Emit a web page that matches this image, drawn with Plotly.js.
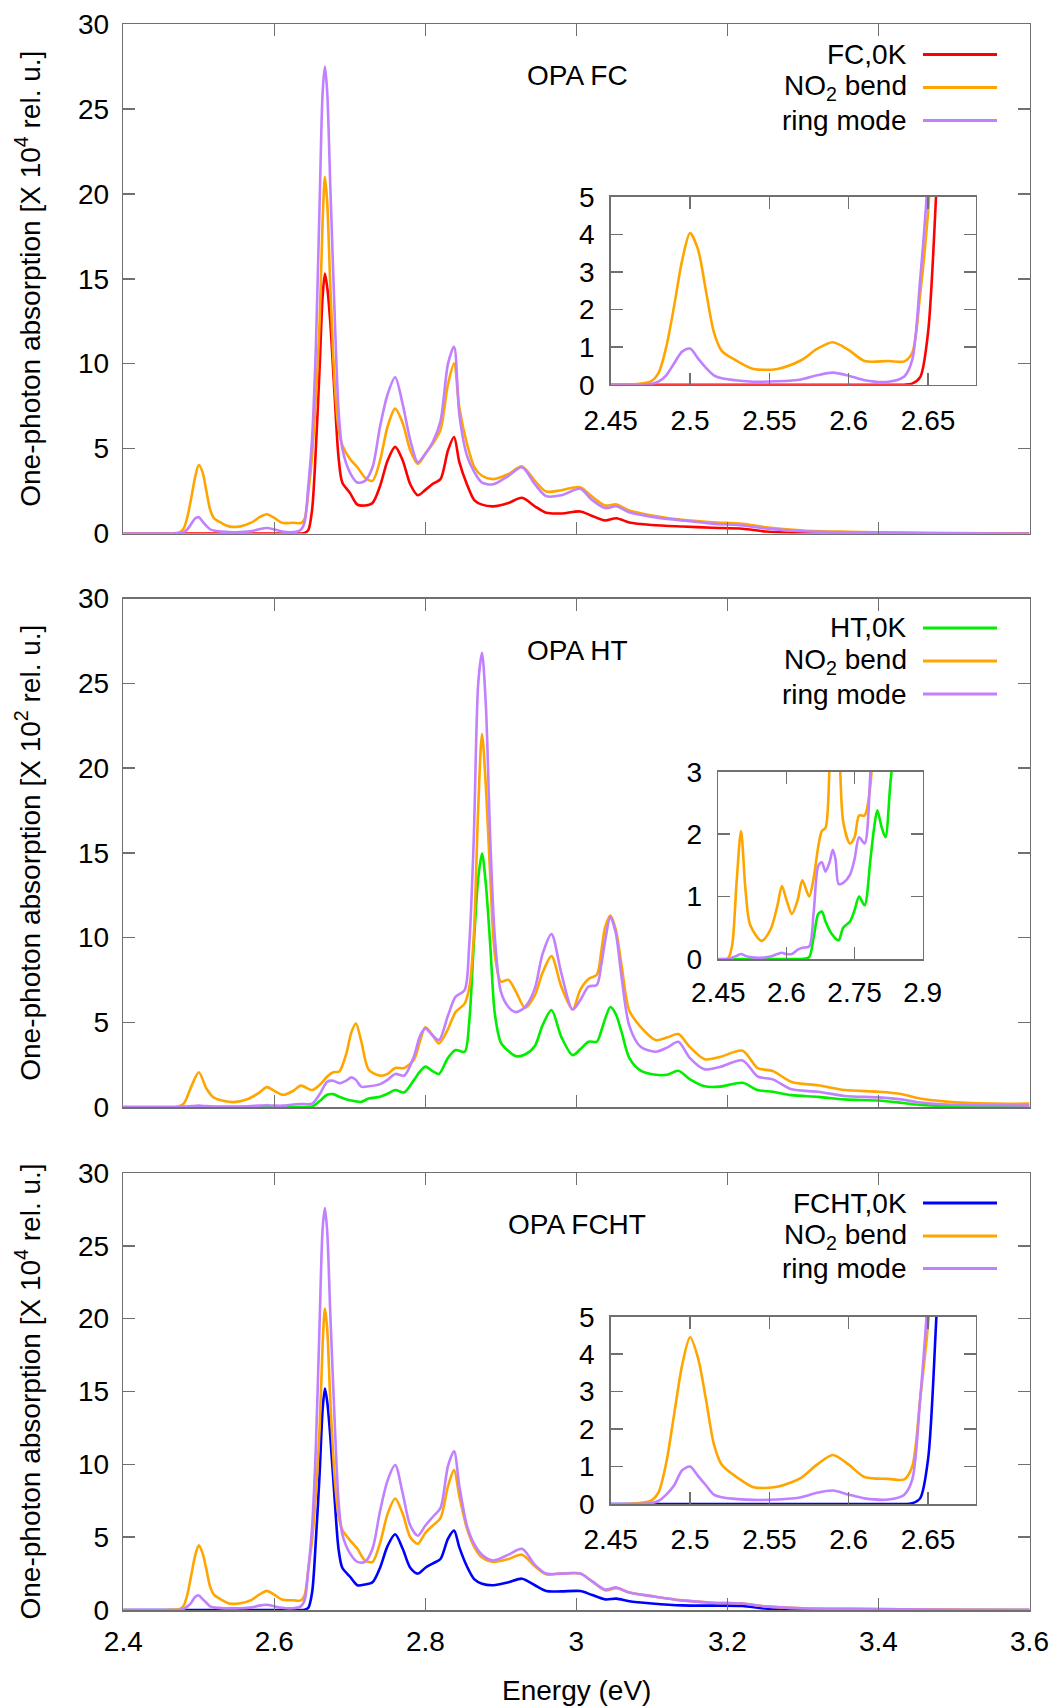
<!DOCTYPE html>
<html>
<head>
<meta charset="utf-8">
<script src="https://cdn.plot.ly/plotly-3.0.1.min.js"></script>
<style>
  html, body { margin: 0; padding: 0; background: #ffffff; }
  #chart { width: 1057px; height: 1706px; }
</style>
</head>
<body>
<div id="chart"></div>
<script>
// ---------------- DATA ----------------
// Panel 1: OPA FC (x 10^4 rel. u.)
const E_FC = [2.40, 2.46, 2.475, 2.48, 2.485, 2.49, 2.495, 2.50, 2.505, 2.51, 2.515, 2.52, 2.53, 2.54, 2.555, 2.57, 2.58, 2.59, 2.60, 2.61, 2.625, 2.635, 2.64, 2.645, 2.65, 2.655, 2.66, 2.664, 2.667, 2.67, 2.674, 2.68, 2.685, 2.69, 2.70, 2.71, 2.72, 2.73, 2.74, 2.75, 2.76, 2.77, 2.78, 2.79, 2.80, 2.81, 2.82, 2.83, 2.838, 2.845, 2.855, 2.865, 2.875, 2.89, 2.91, 2.928, 2.945, 2.96, 2.98, 3.005, 3.02, 3.038, 3.053, 3.07, 3.10, 3.14, 3.18, 3.22, 3.25, 3.30, 3.36, 3.43, 3.50, 3.60];
const FC_0K = [0, 0, 0, 0, 0, 0, 0, 0, 0, 0, 0, 0, 0, 0, 0, 0, 0, 0, 0, 0, 0, 0, 0.03, 0.2, 1.4, 5.0, 9.8, 14.0, 15.3, 14.5, 12.5, 8.0, 4.5, 3.0, 2.4, 1.7, 1.65, 1.8, 2.8, 4.3, 5.1, 4.3, 2.9, 2.25, 2.57, 2.93, 3.2, 4.9, 5.68, 4.2, 2.9, 1.95, 1.7, 1.6, 1.8, 2.1, 1.6, 1.22, 1.18, 1.3, 1.05, 0.77, 0.9, 0.65, 0.5, 0.41, 0.34, 0.28, 0.12, 0.03, 0.01, 0, 0, 0];
const FC_NO2 = [0, 0, 0.08, 0.3, 1.0, 2.1, 3.3, 4.03, 3.6, 2.5, 1.4, 0.9, 0.62, 0.42, 0.42, 0.65, 0.95, 1.13, 0.92, 0.63, 0.63, 0.62, 0.85, 2.4, 4.6, 8.0, 12.5, 18.5, 21.0, 19.5, 14.7, 8.8, 6.2, 5.2, 4.4, 3.9, 3.3, 3.1, 4.3, 6.3, 7.35, 6.5, 4.9, 4.1, 4.7, 5.3, 6.1, 8.8, 10.0, 7.4, 5.3, 3.9, 3.4, 3.2, 3.5, 3.95, 3.1, 2.47, 2.55, 2.73, 2.2, 1.65, 1.71, 1.35, 1.06, 0.8, 0.66, 0.57, 0.37, 0.18, 0.1, 0.05, 0.02, 0];
const FC_RING = [0, 0, 0.02, 0.08, 0.25, 0.57, 0.88, 0.96, 0.7, 0.45, 0.25, 0.17, 0.11, 0.08, 0.09, 0.14, 0.25, 0.32, 0.24, 0.12, 0.08, 0.22, 0.66, 2.8, 5.6, 11.0, 19.5, 26.0, 27.5, 26.0, 20.6, 12.75, 7.3, 5.0, 3.6, 3.0, 3.1, 3.9, 6.3, 8.2, 9.2, 7.6, 5.5, 4.2, 4.7, 5.4, 6.6, 10.0, 11.0, 7.0, 4.6, 3.6, 3.0, 2.9, 3.4, 3.9, 2.9, 2.2, 2.25, 2.63, 2.0, 1.5, 1.6, 1.25, 0.98, 0.77, 0.58, 0.47, 0.3, 0.13, 0.07, 0.04, 0.01, 0];

// Panel 2: OPA HT (x 10^2 rel. u.)
const E_HT = [2.40, 2.47, 2.48, 2.49, 2.50, 2.51, 2.52, 2.545, 2.565, 2.58, 2.59, 2.60, 2.612, 2.625, 2.635, 2.65, 2.66, 2.67, 2.678, 2.686, 2.695, 2.702, 2.708, 2.715, 2.725, 2.74, 2.75, 2.76, 2.772, 2.785, 2.793, 2.80, 2.81, 2.818, 2.83, 2.84, 2.852, 2.858, 2.864, 2.87, 2.875, 2.88, 2.886, 2.892, 2.90, 2.91, 2.92, 2.932, 2.945, 2.955, 2.967, 2.98, 2.995, 3.005, 3.016, 3.027, 3.033, 3.038, 3.045, 3.052, 3.06, 3.07, 3.085, 3.105, 3.12, 3.135, 3.15, 3.17, 3.19, 3.22, 3.24, 3.26, 3.285, 3.32, 3.355, 3.40, 3.43, 3.45, 3.49, 3.55, 3.60];
const HT_0K = [0, 0, 0, 0, 0, 0, 0, 0, 0, 0, 0, 0, 0, 0, 0, 0.03, 0.35, 0.72, 0.76, 0.6, 0.46, 0.38, 0.33, 0.3, 0.5, 0.6, 0.78, 1.0, 0.86, 1.6, 2.1, 2.38, 2.1, 1.95, 2.9, 3.36, 3.26, 5.0, 9.5, 13.5, 14.95, 13.2, 9.5, 5.5, 3.8, 3.3, 3.0, 3.1, 3.6, 4.8, 5.72, 4.14, 3.06, 3.4, 3.85, 3.85, 4.5, 5.2, 5.9, 5.5, 4.4, 2.9, 2.15, 1.9, 1.9, 2.14, 1.65, 1.22, 1.2, 1.43, 1.0, 0.9, 0.7, 0.6, 0.45, 0.38, 0.25, 0.15, 0.05, 0.02, 0];
const HT_NO2 = [0, 0, 0.2, 1.2, 2.05, 1.1, 0.55, 0.29, 0.47, 0.85, 1.17, 0.95, 0.72, 0.95, 1.26, 1.0, 1.3, 1.8, 2.05, 2.1, 3.1, 4.4, 4.93, 3.9, 2.2, 1.85, 1.95, 2.3, 2.3, 2.8, 3.9, 4.7, 4.2, 3.75, 4.6, 5.6, 6.1, 7.0, 10.0, 17.7, 22.0, 19.0, 13.5, 9.0, 7.4, 7.5, 6.8, 5.85, 6.6, 7.9, 8.9, 7.1, 5.75, 6.9, 7.55, 7.8, 9.2, 10.6, 11.3, 10.5, 8.3, 5.7, 4.73, 3.95, 4.1, 4.3, 3.55, 2.82, 2.95, 3.32, 2.3, 2.12, 1.48, 1.28, 1.0, 0.9, 0.77, 0.55, 0.32, 0.2, 0.2];
const HT_RING = [0, 0, 0.02, 0.05, 0.08, 0.05, 0.03, 0.02, 0.04, 0.08, 0.1, 0.08, 0.08, 0.15, 0.18, 0.2, 0.75, 1.49, 1.55, 1.4, 1.55, 1.75, 1.6, 1.2, 1.22, 1.35, 1.6, 1.95, 1.85, 3.0, 4.2, 4.64, 4.2, 3.95, 5.4, 6.5, 6.9, 9.5, 15.7, 25.0, 26.8, 23.8, 15.7, 10.0, 6.8, 5.9, 5.6, 5.9, 7.0, 9.0, 10.2, 7.9, 5.75, 6.3, 7.1, 7.2, 8.4, 9.8, 11.2, 10.3, 7.6, 4.8, 3.55, 3.26, 3.5, 3.85, 2.9, 2.22, 2.36, 2.75, 1.8, 1.63, 1.04, 0.9, 0.65, 0.57, 0.45, 0.3, 0.15, 0.1, 0.08];

// Panel 3: OPA FCHT (x 10^4 rel. u.)
const E_FCHT = [2.40, 2.46, 2.475, 2.48, 2.485, 2.49, 2.495, 2.50, 2.505, 2.51, 2.515, 2.52, 2.53, 2.54, 2.555, 2.57, 2.58, 2.59, 2.60, 2.61, 2.625, 2.635, 2.64, 2.645, 2.65, 2.655, 2.66, 2.664, 2.667, 2.67, 2.674, 2.68, 2.685, 2.69, 2.70, 2.71, 2.72, 2.73, 2.74, 2.75, 2.76, 2.77, 2.78, 2.79, 2.80, 2.81, 2.82, 2.83, 2.838, 2.845, 2.855, 2.865, 2.875, 2.89, 2.91, 2.928, 2.945, 2.96, 2.98, 3.005, 3.02, 3.038, 3.053, 3.07, 3.10, 3.14, 3.18, 3.22, 3.25, 3.30, 3.36, 3.43, 3.50, 3.60];
const FCHT_0K = [0, 0, 0, 0, 0, 0, 0, 0, 0, 0, 0, 0, 0, 0, 0, 0, 0, 0, 0, 0, 0, 0, 0.02, 0.15, 1.2, 4.8, 9.4, 13.8, 15.2, 14.3, 12.0, 7.5, 4.2, 2.9, 2.3, 1.7, 1.75, 1.9, 2.9, 4.4, 5.2, 4.2, 2.9, 2.5, 2.9, 3.2, 3.5, 4.9, 5.45, 4.3, 3.0, 2.1, 1.8, 1.7, 1.9, 2.15, 1.7, 1.3, 1.28, 1.3, 1.05, 0.73, 0.78, 0.6, 0.45, 0.32, 0.3, 0.28, 0.1, 0.03, 0.01, 0, 0, 0];
const FCHT_NO2 = [0, 0, 0.08, 0.3, 1.1, 2.4, 3.7, 4.45, 3.9, 2.8, 1.6, 1.05, 0.7, 0.45, 0.46, 0.7, 1.05, 1.31, 1.05, 0.72, 0.67, 0.66, 1.0, 2.8, 4.8, 8.0, 12.5, 18.3, 20.7, 19.3, 14.5, 9.0, 6.5, 5.5, 4.8, 4.2, 3.4, 3.3, 4.6, 6.6, 7.65, 6.6, 5.0, 4.55, 5.3, 5.8, 6.3, 8.5, 9.6, 7.8, 5.6, 4.3, 3.6, 3.3, 3.5, 3.8, 3.0, 2.45, 2.5, 2.5, 2.0, 1.35, 1.5, 1.2, 0.95, 0.66, 0.5, 0.45, 0.25, 0.12, 0.08, 0.05, 0.02, 0];
const FCHT_RING = [0, 0, 0.02, 0.08, 0.25, 0.5, 0.9, 1.0, 0.75, 0.5, 0.25, 0.18, 0.13, 0.11, 0.12, 0.18, 0.3, 0.36, 0.25, 0.15, 0.12, 0.25, 0.65, 2.8, 5.7, 11.2, 19.8, 26.2, 27.6, 26.0, 20.5, 12.8, 7.5, 5.2, 3.9, 3.3, 3.3, 4.2, 6.8, 8.9, 9.95, 8.0, 5.8, 5.1, 5.8, 6.4, 7.0, 9.9, 10.9, 8.5, 5.8, 4.5, 3.8, 3.4, 3.8, 4.2, 3.1, 2.5, 2.5, 2.5, 2.0, 1.4, 1.55, 1.2, 0.95, 0.66, 0.5, 0.45, 0.25, 0.12, 0.08, 0.05, 0.02, 0];

// Labels
const PANEL_TITLES = ['OPA FC', 'OPA HT', 'OPA FCHT'];
const LEGEND_NAMES = [
  ['FC,0K', 'NO<sub>2</sub> bend', 'ring mode'],
  ['HT,0K', 'NO<sub>2</sub> bend', 'ring mode'],
  ['FCHT,0K', 'NO<sub>2</sub> bend', 'ring mode']
];
const Y_TITLES = [
  'One-photon absorption [X 10<sup>4</sup> rel. u.]',
  'One-photon absorption [X 10<sup>2</sup> rel. u.]',
  'One-photon absorption [X 10<sup>4</sup> rel. u.]'
];
const X_TITLE = 'Energy (eV)';
const MAIN_X_TICKS = [2.4, 2.6, 2.8, 3.0, 3.2, 3.4, 3.6];
const MAIN_X_TICKTEXT = ['2.4', '2.6', '2.8', '3', '3.2', '3.4', '3.6'];
const MAIN_Y_TICKS = [0, 5, 10, 15, 20, 25, 30];
const INSET_A_X_TICKS = [2.45, 2.5, 2.55, 2.6, 2.65];
const INSET_A_X_TICKTEXT = ['2.45', '2.5', '2.55', '2.6', '2.65'];
const INSET_A_Y_TICKS = [0, 1, 2, 3, 4, 5];
const INSET_B_X_TICKS = [2.45, 2.6, 2.75, 2.9];
const INSET_B_X_TICKTEXT = ['2.45', '2.6', '2.75', '2.9'];
const INSET_B_Y_TICKS = [0, 1, 2, 3];

// ---------------- STYLE / LAYOUT ----------------
const W = 1057, H = 1706;
const PX = p => p / W;
const PY = p => 1 - p / H;

const C_RED = '#ff0000', C_ORANGE = '#ffa500', C_PURPLE = '#c080ff', C_GREEN = '#00ee00', C_BLUE = '#0000ff';
const FONT = 'Liberation Sans, Arial, Helvetica, sans-serif';
const FS = 28;
const AXC = '#707070';

const panels = [
  { E: E_FC, ys: [FC_0K, FC_NO2, FC_RING], cols: [C_RED, C_ORANGE, C_PURPLE], top: 24, bot: 533.5,
    inset: { l: 610.7, r: 975.7, t: 196.7, b: 384.7, xr: [2.45, 2.68], yr: [0, 5], xt: INSET_A_X_TICKS, xtt: INSET_A_X_TICKTEXT, yt: INSET_A_Y_TICKS, xso: 10 } },
  { E: E_HT, ys: [HT_0K, HT_NO2, HT_RING], cols: [C_GREEN, C_ORANGE, C_PURPLE], top: 598.5, bot: 1107,
    inset: { l: 718.3, r: 922.7, t: 771.7, b: 959, xr: [2.45, 2.9], yr: [0, 3], xt: INSET_B_X_TICKS, xtt: INSET_B_X_TICKTEXT, yt: INSET_B_Y_TICKS, xso: 8 } },
  { E: E_FCHT, ys: [FCHT_0K, FCHT_NO2, FCHT_RING], cols: [C_BLUE, C_ORANGE, C_PURPLE], top: 1173, bot: 1610,
    inset: { l: 610.7, r: 975.7, t: 1316.7, b: 1504, xr: [2.45, 2.68], yr: [0, 5], xt: INSET_A_X_TICKS, xtt: INSET_A_X_TICKTEXT, yt: INSET_A_Y_TICKS, xso: 10 } }
];
const legendRows = [[54.5, 87.5, 120.5], [628, 661, 694], [1203, 1236, 1268.5]];
const titlePos = [[577, 75], [577, 650], [577, 1224]];

const X_L = 123.3, X_R = 1029.5;

const traces = [];
const layout = {
  width: W, height: H,
  margin: { l: 0, r: 0, t: 0, b: 0, pad: 0 },
  paper_bgcolor: '#ffffff', plot_bgcolor: '#ffffff',
  showlegend: false,
  font: { family: FONT, size: FS, color: '#000000' },
  annotations: [], shapes: []
};

function axisBase() {
  return {
    showgrid: false, zeroline: false, showline: true, linecolor: AXC, linewidth: 1.5,
    mirror: 'ticks', ticks: 'inside', ticklen: 12, tickwidth: 1.5, tickcolor: AXC,
    tickfont: { family: FONT, size: FS, color: '#000000' }, automargin: false, fixedrange: true
  };
}

panels.forEach((p, i) => {
  const mainIdx = 2 * i + 1, insIdx = 2 * i + 2;
  const xm = 'xaxis' + mainIdx, ym = 'yaxis' + mainIdx;
  const xi = 'xaxis' + insIdx, yi = 'yaxis' + insIdx;
  const xmRef = 'x' + mainIdx, ymRef = 'y' + mainIdx, xiRef = 'x' + insIdx, yiRef = 'y' + insIdx;

  layout[xm] = Object.assign(axisBase(), {
    domain: [PX(X_L), PX(X_R)], range: [2.4, 3.6], anchor: ymRef,
    tickmode: 'array', tickvals: MAIN_X_TICKS, ticktext: MAIN_X_TICKTEXT,
    showticklabels: i === 2, ticklabelstandoff: 6
  });
  layout[ym] = Object.assign(axisBase(), {
    domain: [PY(p.bot), PY(p.top)], range: [0, 30], anchor: xmRef,
    tickmode: 'array', tickvals: MAIN_Y_TICKS, ticklabelstandoff: 7
  });
  layout[xi] = Object.assign(axisBase(), {
    domain: [PX(p.inset.l), PX(p.inset.r)], range: p.inset.xr, anchor: yiRef,
    tickmode: 'array', tickvals: p.inset.xt, ticktext: p.inset.xtt, ticklabelstandoff: p.inset.xso
  });
  layout[yi] = Object.assign(axisBase(), {
    domain: [PY(p.inset.b), PY(p.inset.t)], range: p.inset.yr, anchor: xiRef,
    tickmode: 'array', tickvals: p.inset.yt, ticklabelstandoff: 9
  });

  // data traces: main and inset
  p.ys.forEach((ys, k) => {
    const name = LEGEND_NAMES[i][k];
    traces.push({ type: 'scatter', mode: 'lines', x: p.E, y: ys, xaxis: xmRef, yaxis: ymRef, name: name,
      line: { color: p.cols[k], width: 2.6, shape: 'spline', smoothing: 0.8 }, hoverinfo: 'skip' });
  });
  p.ys.forEach((ys, k) => {
    const name = LEGEND_NAMES[i][k];
    traces.push({ type: 'scatter', mode: 'lines', x: p.E, y: ys, xaxis: xiRef, yaxis: yiRef, name: name,
      line: { color: p.cols[k], width: 2.6, shape: 'spline', smoothing: 0.8 }, hoverinfo: 'skip' });
  });

  // legend (gnuplot style: text right-aligned, line sample on the right)
  legendRows[i].forEach((ry, k) => {
    layout.annotations.push({ xref: 'paper', yref: 'paper', x: PX(908.5), y: PY(ry), xanchor: 'right', yanchor: 'middle',
      text: LEGEND_NAMES[i][k], showarrow: false, font: { family: FONT, size: FS, color: '#000' } });
    layout.shapes.push({ type: 'line', xref: 'paper', yref: 'paper', x0: PX(923), x1: PX(997), y0: PY(ry), y1: PY(ry),
      line: { color: p.cols[k], width: 3 } });
  });

  // panel label
  layout.annotations.push({ xref: 'paper', yref: 'paper', x: PX(titlePos[i][0]), y: PY(titlePos[i][1]),
    xanchor: 'center', yanchor: 'middle', text: PANEL_TITLES[i], showarrow: false,
    font: { family: FONT, size: FS, color: '#000' } });

  // y-axis title
  layout.annotations.push({ xref: 'paper', yref: 'paper', x: PX(28), y: PY((p.top + p.bot) / 2),
    xanchor: 'center', yanchor: 'middle', textangle: -90, text: Y_TITLES[i], showarrow: false,
    font: { family: FONT, size: FS, color: '#000' } });
});

// x-axis title
layout.annotations.push({ xref: 'paper', yref: 'paper', x: PX(576.5), y: PY(1690), xanchor: 'center', yanchor: 'middle',
  text: X_TITLE, showarrow: false, font: { family: FONT, size: FS, color: '#000' } });

Plotly.newPlot('chart', traces, layout, { staticPlot: true, displayModeBar: false });
</script>
</body>
</html>
